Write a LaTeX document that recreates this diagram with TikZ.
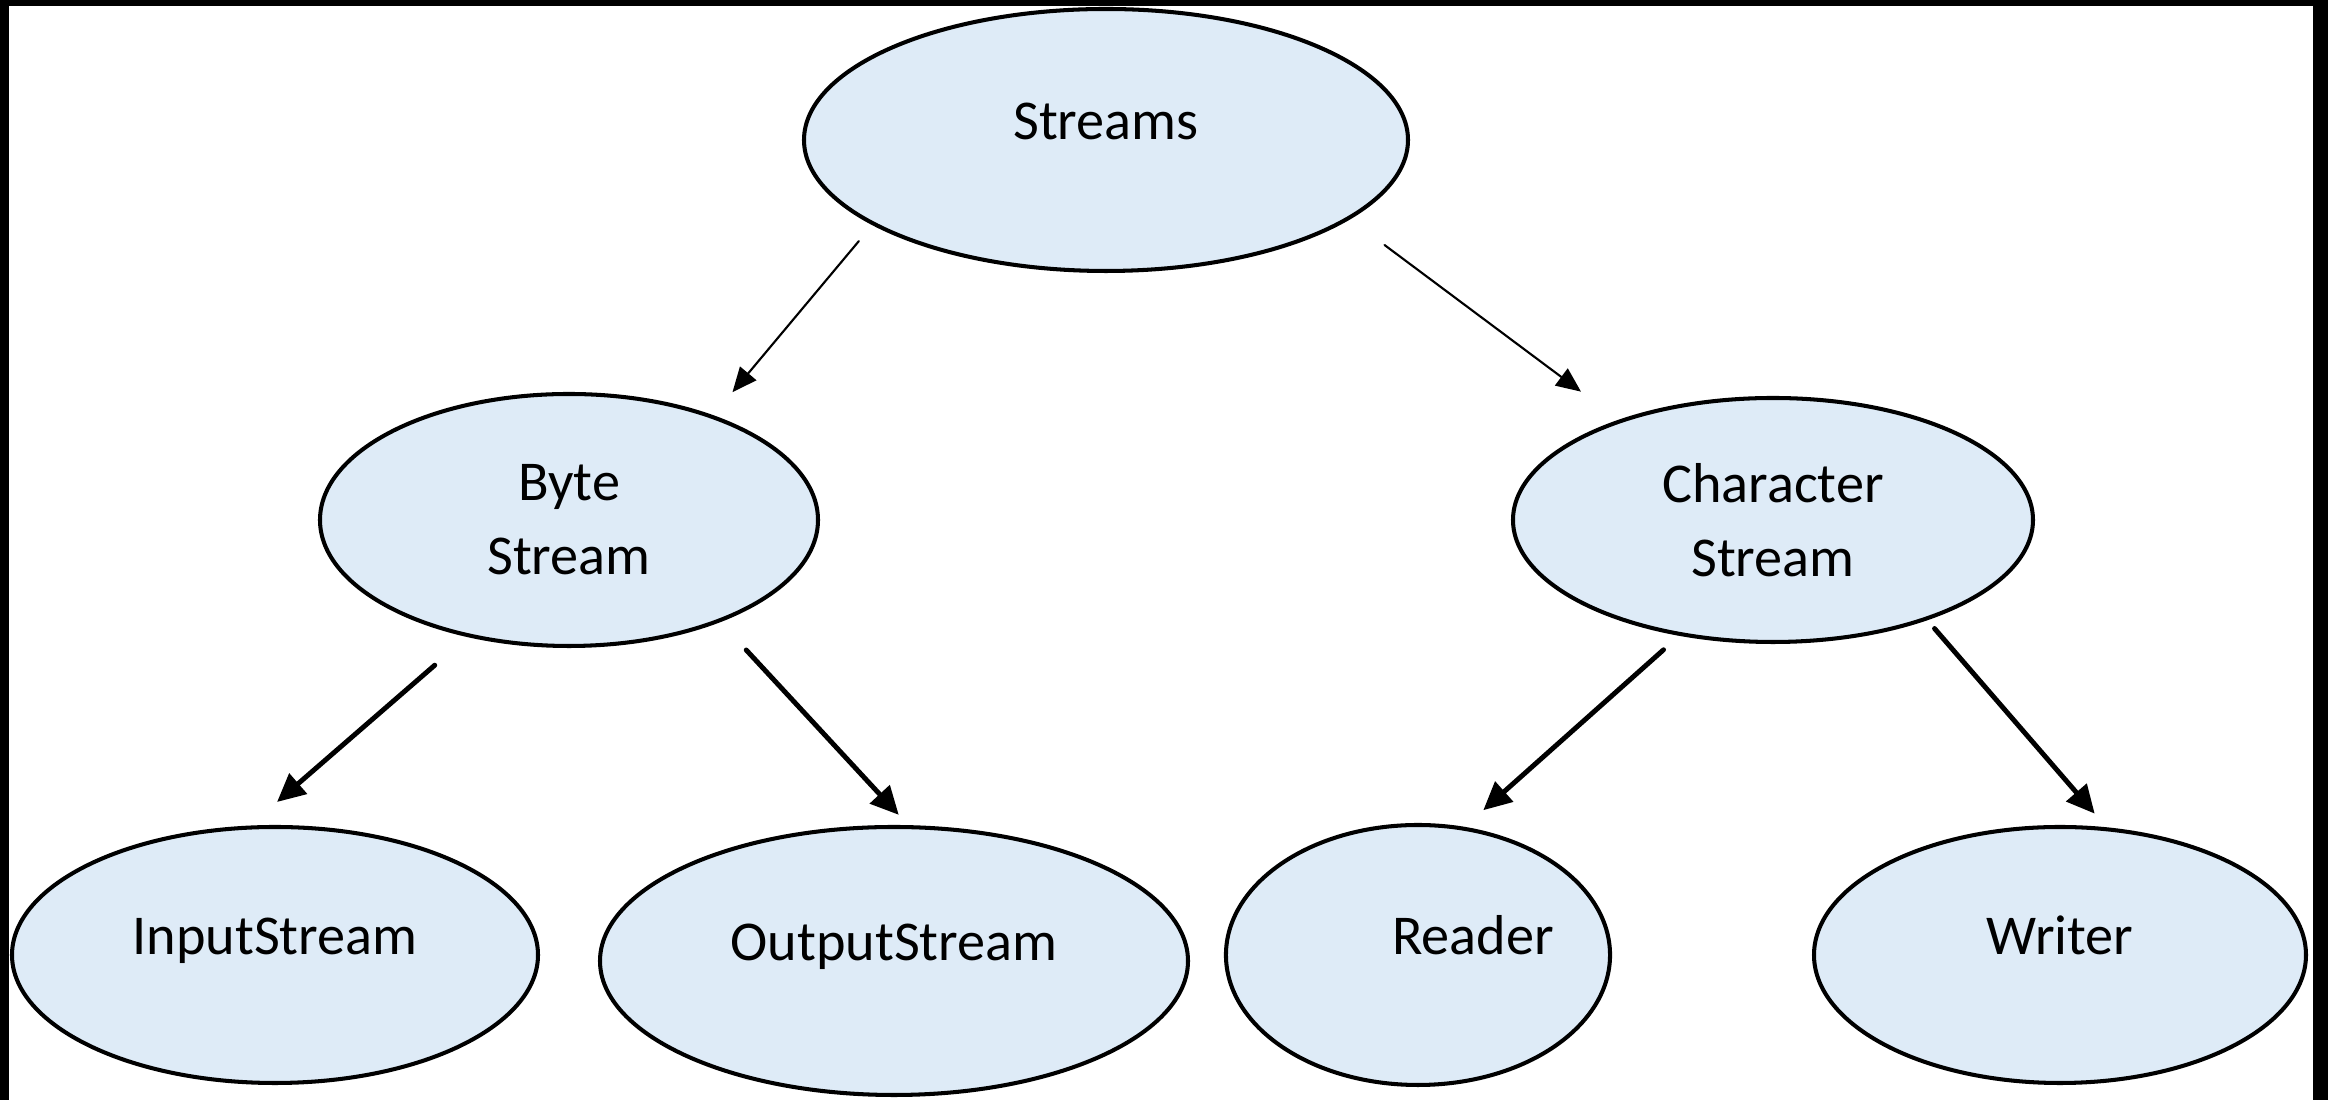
\documentclass[tikz,border=0pt]{standalone}
\usepackage{fontspec}
\setmainfont{Carlito}
\usetikzlibrary{shapes.geometric,arrows.meta}
\definecolor{StreamFill}{HTML}{DEEBF7}

\begin{document}
\begin{tikzpicture}[line cap=round,line join=round,
    oval/.style={ellipse,draw,line width=1.15pt,fill=StreamFill,inner sep=0pt,align=center,font=\fontsize{16pt}{21pt}\selectfont},
    lone/.style={text height=11pt,text depth=11pt},
    thinlink/.style={line width=.6pt,-{Triangle[length=7pt,width=6pt]}},
    thicklink/.style={line width=1.4pt,-{Triangle[length=8pt,width=7.5pt]}}]
  \fill[black] (0,0) rectangle (23.28,11); \fill[white] (.09,0) rectangle (23.13,10.94);
  \node[oval,lone,minimum width=6.04cm,minimum height=2.62cm] (streams) at (11.06,9.60) {Streams};
  \node[oval,minimum width=4.98cm,minimum height=2.52cm] (byte) at (5.69,5.80) {Byte\\Stream};
  \node[oval,minimum width=5.20cm,minimum height=2.44cm] (chars) at (17.73,5.80) {Character\\Stream};
  \node[oval,lone,minimum width=5.26cm,minimum height=2.56cm] (input) at (2.75,1.45) {InputStream};
  \node[oval,lone,minimum width=5.88cm,minimum height=2.68cm] (output) at (8.94,1.39) {OutputStream};
  \node[oval,lone,minimum width=3.78cm,minimum height=2.60cm] (reader) at (14.18,1.45) {\hspace*{1.1cm}Reader};
  \node[oval,lone,minimum width=4.92cm,minimum height=2.56cm] (writer) at (20.60,1.45) {Writer};
  \draw[thinlink,shorten <=.21cm,shorten >=.30cm] (streams.200.7) -- (byte.36.6);
  \draw[thinlink,shorten <=.43cm,shorten >=.47cm] (streams.342.9) -- (chars.147.5);
  \draw[thicklink,shorten <=.43cm,shorten >=.36cm] (byte.229.7) -- (input.101.8);
  \draw[thicklink,shorten <=.38cm,shorten >=.14cm] (byte.326.9) -- (output.84);
  \draw[thicklink,shorten <=.21cm,shorten >=.25cm] (chars.231.9) -- (reader.70.4);
  \draw[thicklink,shorten <=.11cm,shorten >=.18cm] (chars.327.2) -- (writer.70.7);
\end{tikzpicture}
\end{document}
